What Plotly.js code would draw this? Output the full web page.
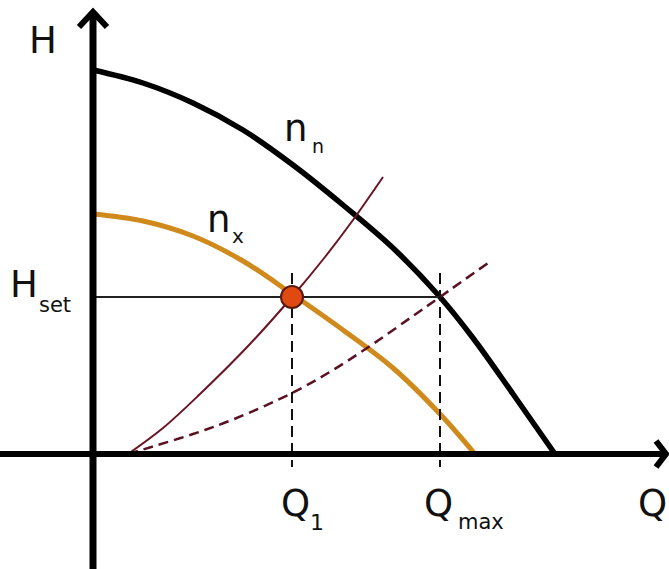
<!DOCTYPE html>
<html>
<head>
<meta charset="utf-8">
<script src="https://cdn.plot.ly/plotly-3.0.1.min.js"></script>
<style>html,body{margin:0;padding:0;background:#fff;}#chart{width:669px;height:569px;}</style>
</head>
<body>
<div id="chart"></div>
<script>
// Pump curve at nominal speed n_n
const pumpNnQ = [0, 0.5, 1.0, 1.5, 2.0, 2.5, 3.0, 3.47, 3.8, 4.2, 4.62];
const pumpNnH = [3.84, 3.71, 3.51, 3.24, 2.89, 2.49, 2.06, 1.57, 1.16, 0.60, 0];
// Pump curve at reduced speed n_x
const pumpNxQ = [0, 0.5, 1.0, 1.5, 1.99, 2.5, 3.0, 3.47, 3.82];
const pumpNxH = [2.40, 2.33, 2.18, 1.93, 1.60, 1.24, 0.86, 0.40, 0];
// Steep system curve (solid)
const sysSolidQ = [0.35, 0.7, 1.07, 1.57, 1.99, 2.32, 2.60, 2.90];
const sysSolidH = [0, 0.26, 0.60, 1.10, 1.57, 1.97, 2.34, 2.77];
// Flat system curve (dashed)
const sysDashQ = [0.35, 0.6, 1.0, 1.4, 1.99, 2.4, 2.8, 3.2, 3.47, 3.95];
const sysDashH = [0, 0.075, 0.2, 0.345, 0.61, 0.84, 1.10, 1.38, 1.57, 1.91];
// Characteristic values
const Hset = 1.57;
const Q1 = 1.99;
const Qmax = 3.47;
const dashTopH = 1.81;
const dashBottomH = -0.13;

// pixel -> data helpers for decorations
const X = px => (px - 93) / 100;
const Y = py => (454 - py) / 100;

const traces = [
  {x: pumpNnQ, y: pumpNnH, mode: 'lines', line: {color: '#000', width: 5.5, shape: 'spline', smoothing: 1}},
  {x: pumpNxQ, y: pumpNxH, mode: 'lines', line: {color: '#d08a1c', width: 5, shape: 'spline', smoothing: 1}},
  {x: sysSolidQ, y: sysSolidH, mode: 'lines', line: {color: '#6a1424', width: 2, shape: 'spline', smoothing: 1}},
  {x: sysDashQ, y: sysDashH, mode: 'lines', line: {color: '#5a1222', width: 2.5, dash: '10px,6px', shape: 'spline', smoothing: 1}},
  {x: [0, Qmax], y: [Hset, Hset], mode: 'lines', line: {color: '#222', width: 2}},
  {x: [Q1, Q1], y: [dashTopH, dashBottomH], mode: 'lines', line: {color: '#111', width: 2, dash: '11px,6px'}},
  {x: [Qmax, Qmax], y: [dashTopH, dashBottomH], mode: 'lines', line: {color: '#111', width: 2, dash: '11px,6px'}},
  {x: [Q1], y: [Hset], mode: 'markers', marker: {color: '#e04a12', size: 22, line: {color: '#5a1a10', width: 2}}}
];

const F = 'DejaVu Sans';
const big = 37, small = 21;
function ann(text, px, py, size) {
  return {text: text, x: X(px), y: Y(py), xref: 'x', yref: 'y', showarrow: false,
          xanchor: 'center', yanchor: 'middle', font: {family: F, size: size, color: '#111'}};
}

const layout = {
  width: 669, height: 569,
  margin: {l: 0, r: 0, t: 0, b: 0},
  paper_bgcolor: '#fff', plot_bgcolor: '#fff',
  showlegend: false,
  xaxis: {range: [X(0), X(669)], visible: false, fixedrange: true},
  yaxis: {range: [Y(569), Y(0)], visible: false, fixedrange: true},
  shapes: [
    {type: 'line', xref: 'x', yref: 'y', x0: X(93), x1: X(93), y0: Y(569), y1: Y(13), line: {color: '#000', width: 7}},
    {type: 'line', xref: 'x', yref: 'y', x0: X(0), x1: X(665), y0: Y(454), y1: Y(454), line: {color: '#000', width: 6}},
    {type: 'path', xref: 'x', yref: 'y', path: `M ${X(79)},${Y(27)} L ${X(93)},${Y(12)} L ${X(107)},${Y(27)}`, line: {color: '#000', width: 6}},
    {type: 'path', xref: 'x', yref: 'y', path: `M ${X(656)},${Y(441)} L ${X(666)},${Y(454)} L ${X(656)},${Y(467)}`, line: {color: '#000', width: 6}}
  ],
  annotations: [
    ann('H', 42.5, 40, big),
    ann('H', 23.5, 284, big),
    ann('set', 55, 305, small),
    ann('n', 295, 128, big),
    ann('n', 317.5, 146, 19),
    ann('n', 218, 219, big),
    ann('x', 237.5, 236, 20),
    ann('Q', 295, 503, big),
    ann('1', 316.5, 522, 22),
    ann('Q', 438.5, 503, big),
    ann('max', 480.5, 522, small),
    ann('Q', 652, 503, big)
  ]
};

Plotly.newPlot('chart', traces, layout, {staticPlot: true, displayModeBar: false});
</script>
</body>
</html>
